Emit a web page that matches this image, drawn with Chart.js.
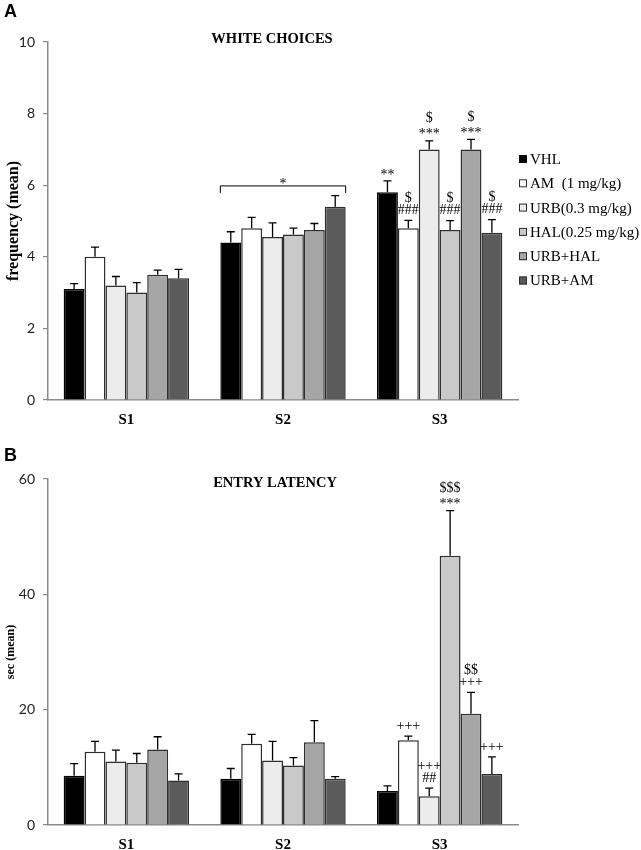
<!DOCTYPE html>
<html>
<head>
<meta charset="utf-8">
<script src="https://cdn.jsdelivr.net/npm/chart.js@4.4.1/dist/chart.umd.min.js"></script>
<style>
  html, body { margin: 0; padding: 0; background: #fff; }
  body { width: 641px; height: 850px; position: relative; overflow: hidden; }
  .panel { position: absolute; left: 0; width: 641px; height: 425px; }
  #pa { top: 0; }
  #pb { top: 425px; }
  .plabel { position: absolute; left: 4px; font: bold 18px "Liberation Sans", Arial, sans-serif; color: #000; }
</style>
</head>
<body>
<div class="panel" id="pa"><canvas id="chartA"></canvas></div>
<div class="panel" id="pb"><canvas id="chartB"></canvas></div>
<div class="plabel" style="top:1px;">A</div>
<div class="plabel" style="top:445px;">B</div>
<script>
// ---------- DATA ----------
const categories = ['S1', 'S2', 'S3'];
const seriesLabels = ['VHL', 'AM  (1 mg/kg)', 'URB(0.3 mg/kg)', 'HAL(0.25 mg/kg)', 'URB+HAL', 'URB+AM'];
const seriesColors = ['#000000', '#ffffff', '#ececec', '#c9c9c9', '#a6a6a6', '#5b5b5b'];

// Panel A: WHITE CHOICES (frequency, mean) and SEM
const choicesVHL    = [3.1, 4.4, 5.8];
const choicesAM     = [4.0, 4.8, 4.8];
const choicesURB    = [3.2, 4.55, 7.0];
const choicesHAL    = [3.0, 4.62, 4.75];
const choicesURBHAL = [3.5, 4.75, 7.0];
const choicesURBAM  = [3.4, 5.4, 4.67];
const choicesSemVHL    = [0.15, 0.3, 0.32];
const choicesSemAM     = [0.27, 0.3, 0.22];
const choicesSemURB    = [0.25, 0.4, 0.24];
const choicesSemHAL    = [0.28, 0.18, 0.26];
const choicesSemURBHAL = [0.13, 0.18, 0.28];
const choicesSemURBAM  = [0.25, 0.31, 0.37];

// Panel B: ENTRY LATENCY (sec, mean) and SEM
const latencyVHL    = [8.56, 8.0, 5.9];
const latencyAM     = [12.7, 14.1, 14.7];
const latencyURB    = [11.0, 11.2, 5.0];
const latencyHAL    = [10.8, 10.3, 46.7];
const latencyURBHAL = [13.1, 14.35, 19.3];
const latencyURBAM  = [7.7, 8.0, 8.85];
const latencySemVHL    = [2.1, 1.8, 0.9];
const latencySemAM     = [1.8, 1.6, 0.7];
const latencySemURB    = [2.0, 3.3, 1.4];
const latencySemHAL    = [1.6, 1.4, 7.8];
const latencySemURBHAL = [2.2, 3.75, 3.7];
const latencySemURBAM  = [1.15, 0.4, 2.95];

// Significance marks: [category index, series index, lines from bottom to top]
const choicesMarks = [
  [2, 0, ['**']],
  [2, 1, ['###', '$']],
  [2, 2, ['***', '$']],
  [2, 3, ['###', '$']],
  [2, 4, ['***', '$']],
  [2, 5, ['###', '$']]
];
const choicesBracket = [1, 5.98, '*']; // category, value, mark
const latencyMarks = [
  [2, 1, ['+++']],
  [2, 2, ['##', '+++']],
  [2, 3, ['***', '$$$']],
  [2, 4, ['+++', '$$']],
  [2, 5, ['+++']]
];

const choicesTicks = [0, 2, 4, 6, 8, 10];
const latencyTicks = [0, 20, 40, 60];

// ---------- HELPERS ----------
const SERIF = '"Liberation Serif", "Times New Roman", serif';

function makeDatasets(means, sems) {
  return means.map((m, i) => ({
    label: seriesLabels[i],
    data: m,
    sem: sems[i],
    backgroundColor: seriesColors[i],
    borderColor: i === 0 ? '#000000' : '#2e2e2e',
    borderWidth: 1.5,
    borderSkipped: 'bottom',
    categoryPercentage: 0.8,
    barPercentage: 1.0
  }));
}

const errorBarPlugin = {
  id: 'errorBars',
  afterDatasetsDraw(chart) {
    const ctx = chart.ctx;
    const y = chart.scales.y;
    ctx.save();
    ctx.strokeStyle = '#000';
    ctx.lineWidth = 1.3;
    chart.data.datasets.forEach((ds, di) => {
      const meta = chart.getDatasetMeta(di);
      meta.data.forEach((bar, i) => {
        const top = y.getPixelForValue(ds.data[i] + ds.sem[i]);
        const base = bar.y;
        ctx.beginPath();
        ctx.moveTo(bar.x, base);
        ctx.lineTo(bar.x, top);
        ctx.moveTo(bar.x - 4, top);
        ctx.lineTo(bar.x + 4, top);
        ctx.stroke();
      });
    });
    ctx.restore();
  }
};

const marksPlugin = {
  id: 'sigMarks',
  afterDatasetsDraw(chart, args, opts) {
    const ctx = chart.ctx;
    const y = chart.scales.y;
    ctx.save();
    ctx.fillStyle = '#000';
    ctx.textAlign = 'center';
    ctx.textBaseline = 'middle';
    ctx.font = '14px ' + SERIF;
    (opts.marks || []).forEach(([c, s, lines]) => {
      const ds = chart.data.datasets[s];
      const bar = chart.getDatasetMeta(s).data[c];
      const top = y.getPixelForValue(ds.data[c] + ds.sem[c]);
      lines.forEach((t, k) => {
        const off = t.indexOf('*') >= 0 ? 6 : 10;
        ctx.fillText(t, bar.x, top - off - k * 12);
      });
    });
    if (opts.bracket) {
      const [c, v, t] = opts.bracket;
      const n = chart.data.datasets.length;
      const b0 = chart.getDatasetMeta(0).data[c];
      const b1 = chart.getDatasetMeta(n - 1).data[c];
      const x0 = b0.x - b0.width / 2, x1 = b1.x + b1.width / 2;
      const py = y.getPixelForValue(v);
      ctx.strokeStyle = '#000';
      ctx.lineWidth = 1;
      ctx.beginPath();
      ctx.moveTo(x0, py + 7);
      ctx.lineTo(x0, py);
      ctx.lineTo(x1, py);
      ctx.lineTo(x1, py + 7);
      ctx.stroke();
      ctx.fillText(t, (x0 + x1) / 2, py - 2);
    }
    if (opts.title) {
      ctx.font = 'bold 14.5px ' + SERIF;
      ctx.fillText(opts.title, chart.chartArea.left + opts.titleDx, chart.chartArea.top + opts.titleDy);
    }
    ctx.restore();
  }
};

const legendPlugin = {
  id: 'sideLegend',
  afterDraw(chart, args, opts) {
    if (!opts.show) return;
    const ctx = chart.ctx;
    ctx.save();
    ctx.font = '15px ' + SERIF;
    ctx.textAlign = 'left';
    ctx.textBaseline = 'middle';
    chart.data.datasets.forEach((ds, i) => {
      const cy = opts.top + i * 24.3;
      const bx = chart.chartArea.right + 1;
      ctx.fillStyle = ds.backgroundColor;
      ctx.fillRect(bx, cy - 4, 8, 8);
      ctx.strokeStyle = ds.borderColor;
      ctx.lineWidth = 1;
      ctx.strokeRect(bx + 0.5, cy - 3.5, 7, 7);
      ctx.fillStyle = '#000';
      ctx.fillText(ds.label, bx + 11, cy + 1);
    });
    ctx.restore();
  }
};

function makeChart(id, means, sems, opt) {
  return new Chart(document.getElementById(id), {
    type: 'bar',
    data: { labels: categories, datasets: makeDatasets(means, sems) },
    plugins: [errorBarPlugin, marksPlugin, legendPlugin],
    options: {
      responsive: true,
      maintainAspectRatio: false,
      animation: false,
      layout: { padding: { left: 0, right: 123, top: opt.padTop, bottom: 0 } },
      plugins: {
        legend: { display: false },
        tooltip: { enabled: false },
        sigMarks: { marks: opt.marks, bracket: opt.bracket, title: opt.title, titleDx: opt.titleDx, titleDy: opt.titleDy },
        sideLegend: { show: opt.legend, top: 159 }
      },
      scales: {
        x: {
          afterFit(s) { s.height = 25; },
          grid: { display: false },
          border: { display: true, color: '#8a8a8a', width: 1.5 },
          ticks: { padding: 3, color: '#000', font: { family: SERIF, size: 15, weight: 'bold' } }
        },
        y: {
          min: 0,
          max: opt.ticks[opt.ticks.length - 1],
          afterFit(s) { s.width = 48; },
          afterBuildTicks(s) { s.ticks = opt.ticks.map(v => ({ value: v })); },
          grid: { drawOnChartArea: false, drawTicks: true, tickLength: 5, color: '#8a8a8a', lineWidth: 1.2 },
          border: { display: true, color: '#8a8a8a', width: 1.5 },
          ticks: { padding: 8, color: '#222', font: { family: 'Lato, "Open Sans", sans-serif', size: 14 } },
          title: {
            display: true,
            text: opt.yTitle,
            color: '#000',
            padding: { top: 4, bottom: 0 },
            font: { family: SERIF, size: opt.yTitleSize, weight: 'bold' }
          }
        }
      }
    }
  });
}

makeChart('chartA',
  [choicesVHL, choicesAM, choicesURB, choicesHAL, choicesURBHAL, choicesURBAM],
  [choicesSemVHL, choicesSemAM, choicesSemURB, choicesSemHAL, choicesSemURBHAL, choicesSemURBAM],
  { padTop: 42, ticks: choicesTicks, yTitle: 'frequency (mean)', yTitleSize: 16,
    marks: choicesMarks, bracket: choicesBracket, title: 'WHITE CHOICES', titleDx: 224, titleDy: -3, legend: true });

makeChart('chartB',
  [latencyVHL, latencyAM, latencyURB, latencyHAL, latencyURBHAL, latencyURBAM],
  [latencySemVHL, latencySemAM, latencySemURB, latencySemHAL, latencySemURBHAL, latencySemURBAM],
  { padTop: 54, ticks: latencyTicks, yTitle: 'sec (mean)', yTitleSize: 12,
    marks: latencyMarks, bracket: null, title: 'ENTRY LATENCY', titleDx: 227, titleDy: 4, legend: false });
</script>
</body>
</html>
